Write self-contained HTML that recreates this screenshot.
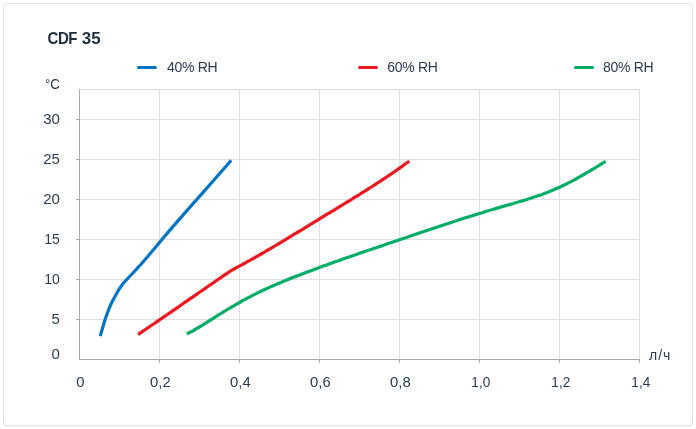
<!DOCTYPE html>
<html lang="ru"><head><meta charset="utf-8"><title>CDF 35</title>
<style>
html,body{margin:0;padding:0;background:#fff;}
body{width:696px;height:429px;overflow:hidden;position:relative;font-family:"Liberation Sans",sans-serif;}
.card{position:absolute;left:3px;top:3px;width:688px;height:421px;border:1px solid #e1e3e6;border-radius:3px;background:#fff;box-shadow:0 1px 1px rgba(0,0,0,0.03);}
svg{position:absolute;left:0;top:0;}
text{font-family:"Liberation Sans",sans-serif;font-size:14px;fill:#2b3b4f;}
.lg{letter-spacing:-0.3px;}
.title{font-size:16px;font-weight:bold;fill:#1f2d40;letter-spacing:-0.55px;}
</style></head><body>
<div class="card"></div>
<svg width="696" height="429" viewBox="0 0 696 429">
<text class="title" transform="translate(47.6,44) scale(0.94,1)" xml:space="preserve">CDF </text><text class="title" transform="translate(81.8,44) scale(1.06,1)" style="letter-spacing:0">35</text>
<g stroke="#dedfe2" stroke-width="1" shape-rendering="crispEdges"><line x1="159.5" y1="89" x2="159.5" y2="359"/><line x1="239.5" y1="89" x2="239.5" y2="359"/><line x1="319.5" y1="89" x2="319.5" y2="359"/><line x1="399.5" y1="89" x2="399.5" y2="359"/><line x1="479.5" y1="89" x2="479.5" y2="359"/><line x1="559.5" y1="89" x2="559.5" y2="359"/><line x1="639.5" y1="89" x2="639.5" y2="359"/><line x1="80" y1="89.5" x2="640" y2="89.5"/><line x1="80" y1="119.5" x2="640" y2="119.5"/><line x1="80" y1="159.5" x2="640" y2="159.5"/><line x1="80" y1="199.5" x2="640" y2="199.5"/><line x1="80" y1="239.5" x2="640" y2="239.5"/><line x1="80" y1="279.5" x2="640" y2="279.5"/><line x1="80" y1="319.5" x2="640" y2="319.5"/></g>
<g stroke="#a8aaaf" stroke-width="1" shape-rendering="crispEdges">
<line x1="79.5" y1="89" x2="79.5" y2="360"/><line x1="79" y1="359.5" x2="640" y2="359.5"/><line x1="159.5" y1="359" x2="159.5" y2="363"/><line x1="239.5" y1="359" x2="239.5" y2="363"/><line x1="319.5" y1="359" x2="319.5" y2="363"/><line x1="399.5" y1="359" x2="399.5" y2="363"/><line x1="479.5" y1="359" x2="479.5" y2="363"/><line x1="559.5" y1="359" x2="559.5" y2="363"/><line x1="639.5" y1="359" x2="639.5" y2="363"/><line x1="76" y1="119.5" x2="79" y2="119.5"/><line x1="76" y1="159.5" x2="79" y2="159.5"/><line x1="76" y1="199.5" x2="79" y2="199.5"/><line x1="76" y1="239.5" x2="79" y2="239.5"/><line x1="76" y1="279.5" x2="79" y2="279.5"/><line x1="76" y1="319.5" x2="79" y2="319.5"/></g>
<g fill="none" stroke-width="3.2" stroke-linejoin="round">
<path stroke="#0474c6" d="M100.3,336.1 C100.6,335.0 101.5,331.8 102.1,329.6 C102.7,327.4 103.4,325.2 104.0,323.1 C104.7,320.9 105.4,318.7 106.1,316.6 C106.9,314.4 107.6,312.2 108.5,310.1 C109.3,307.9 110.2,305.7 111.3,303.5 C112.3,301.4 113.5,299.2 114.7,297.0 C115.8,294.9 117.0,292.7 118.3,290.5 C119.7,288.4 121.0,286.2 122.7,284.0 C124.5,281.8 126.7,279.7 128.7,277.5 C130.7,275.3 132.8,273.2 134.8,271.0 C136.9,268.8 138.8,266.6 140.8,264.5 C142.7,262.3 144.6,260.1 146.4,258.0 C148.3,255.8 150.1,253.6 151.9,251.5 C153.8,249.3 155.6,247.1 157.4,244.9 C159.2,242.8 161.0,240.6 162.8,238.4 C164.7,236.3 166.5,234.1 168.4,231.9 C170.2,229.8 172.1,227.6 174.0,225.4 C175.9,223.2 177.8,221.1 179.7,218.9 C181.6,216.7 183.5,214.6 185.4,212.4 C187.3,210.2 189.2,208.0 191.1,205.9 C193.0,203.7 195.0,201.5 196.9,199.4 C198.8,197.2 200.7,195.0 202.7,192.9 C204.6,190.7 206.5,188.5 208.4,186.3 C210.4,184.2 212.3,182.0 214.2,179.8 C216.1,177.7 218.0,175.5 219.9,173.3 C221.8,171.2 223.7,169.0 225.6,166.8 C227.5,164.6 230.3,161.4 231.2,160.3"/>
<path stroke="#ec1820" d="M138.1,334.5 C138.8,334.1 140.8,332.7 142.1,331.8 C143.5,330.9 144.8,329.9 146.2,329.0 C147.5,328.1 148.9,327.2 150.2,326.3 C151.6,325.3 152.9,324.4 154.3,323.5 C155.6,322.6 157.0,321.7 158.3,320.7 C159.7,319.8 161.0,318.9 162.4,317.9 C163.7,317.0 165.1,316.1 166.4,315.2 C167.8,314.2 169.1,313.3 170.5,312.4 C171.8,311.4 173.2,310.5 174.5,309.6 C175.9,308.6 177.2,307.7 178.6,306.8 C179.9,305.8 181.3,304.9 182.6,304.0 C184.0,303.0 185.3,302.1 186.7,301.2 C188.0,300.2 189.4,299.3 190.7,298.4 C192.1,297.4 193.4,296.5 194.8,295.6 C196.1,294.6 197.5,293.7 198.8,292.8 C200.2,291.8 201.5,290.9 202.9,290.0 C204.2,289.1 205.6,288.1 206.9,287.2 C208.3,286.3 209.6,285.3 211.0,284.4 C212.3,283.5 213.7,282.5 215.0,281.6 C216.4,280.7 217.7,279.8 219.1,278.8 C220.4,277.9 221.8,277.0 223.1,276.0 C224.5,275.1 225.8,274.2 227.2,273.3 C228.5,272.4 229.8,271.5 231.2,270.7 C232.5,269.8 233.9,269.1 235.2,268.3 C236.6,267.5 237.9,266.8 239.3,266.1 C240.6,265.4 242.0,264.7 243.3,264.0 C244.7,263.2 246.0,262.5 247.4,261.7 C248.7,261.0 250.1,260.3 251.4,259.5 C252.8,258.8 254.1,258.0 255.5,257.2 C256.8,256.5 258.2,255.7 259.5,254.9 C260.9,254.2 262.2,253.4 263.6,252.6 C264.9,251.8 266.3,251.0 267.6,250.2 C269.0,249.4 270.3,248.7 271.7,247.9 C273.0,247.1 274.4,246.3 275.7,245.5 C277.1,244.7 278.4,243.8 279.8,243.0 C281.1,242.2 282.5,241.4 283.8,240.6 C285.2,239.8 286.5,239.0 287.9,238.2 C289.2,237.3 290.6,236.5 291.9,235.7 C293.3,234.9 294.6,234.1 296.0,233.2 C297.3,232.4 298.7,231.6 300.0,230.8 C301.4,229.9 302.7,229.1 304.1,228.3 C305.4,227.5 306.8,226.6 308.1,225.8 C309.5,225.0 310.8,224.2 312.2,223.3 C313.5,222.5 314.9,221.7 316.2,220.9 C317.6,220.1 318.9,219.2 320.2,218.4 C321.6,217.6 322.9,216.8 324.3,216.0 C325.6,215.1 327.0,214.3 328.3,213.5 C329.7,212.7 331.0,211.9 332.4,211.1 C333.7,210.2 335.1,209.4 336.4,208.6 C337.8,207.8 339.1,207.0 340.5,206.2 C341.8,205.3 343.2,204.5 344.5,203.7 C345.9,202.9 347.2,202.1 348.6,201.2 C349.9,200.4 351.3,199.6 352.6,198.7 C354.0,197.9 355.3,197.1 356.7,196.2 C358.0,195.4 359.4,194.6 360.7,193.7 C362.1,192.9 363.4,192.0 364.8,191.2 C366.1,190.3 367.5,189.5 368.8,188.6 C370.2,187.8 371.5,186.9 372.9,186.0 C374.2,185.2 375.6,184.3 376.9,183.4 C378.3,182.6 379.6,181.7 381.0,180.8 C382.3,179.9 383.7,179.0 385.0,178.1 C386.4,177.2 387.7,176.3 389.1,175.4 C390.4,174.5 391.8,173.5 393.1,172.6 C394.5,171.7 395.8,170.7 397.2,169.8 C398.5,168.8 399.9,167.9 401.2,166.9 C402.6,166.0 403.9,165.0 405.3,164.0 C406.6,163.0 408.6,161.6 409.3,161.1"/>
<path stroke="#03ad66" d="M186.8,334.0 C187.7,333.5 190.3,332.2 192.1,331.3 C193.9,330.3 195.6,329.3 197.4,328.2 C199.2,327.2 200.9,326.1 202.7,325.0 C204.5,323.9 206.2,322.8 208.0,321.7 C209.8,320.5 211.5,319.4 213.3,318.3 C215.1,317.2 216.8,316.0 218.6,314.9 C220.4,313.8 222.1,312.7 223.9,311.6 C225.7,310.5 227.4,309.5 229.2,308.4 C231.0,307.4 232.7,306.3 234.5,305.3 C236.3,304.3 238.0,303.3 239.8,302.3 C241.6,301.3 243.3,300.3 245.1,299.4 C246.9,298.4 248.6,297.5 250.4,296.6 C252.2,295.6 253.9,294.7 255.7,293.9 C257.5,293.0 259.3,292.1 261.0,291.3 C262.8,290.4 264.6,289.6 266.3,288.8 C268.1,288.0 269.9,287.2 271.6,286.4 C273.4,285.6 275.2,284.9 276.9,284.1 C278.7,283.4 280.5,282.6 282.2,281.9 C284.0,281.2 285.8,280.4 287.5,279.7 C289.3,279.0 291.1,278.3 292.8,277.6 C294.6,276.9 296.4,276.2 298.1,275.5 C299.9,274.8 301.7,274.2 303.4,273.5 C305.2,272.8 307.0,272.1 308.7,271.5 C310.5,270.8 312.3,270.2 314.0,269.5 C315.8,268.8 317.6,268.2 319.3,267.5 C321.1,266.9 322.9,266.2 324.6,265.6 C326.4,265.0 328.2,264.3 329.9,263.7 C331.7,263.1 333.5,262.4 335.2,261.8 C337.0,261.2 338.8,260.5 340.5,259.9 C342.3,259.3 344.1,258.7 345.8,258.1 C347.6,257.4 349.4,256.8 351.1,256.2 C352.9,255.6 354.7,255.0 356.4,254.4 C358.2,253.8 360.0,253.2 361.7,252.6 C363.5,252.0 365.3,251.4 367.0,250.8 C368.8,250.1 370.6,249.5 372.3,249.0 C374.1,248.4 375.9,247.8 377.6,247.2 C379.4,246.6 381.2,246.0 382.9,245.4 C384.7,244.8 386.5,244.2 388.2,243.6 C390.0,243.0 391.8,242.4 393.5,241.8 C395.3,241.2 397.1,240.6 398.9,240.0 C400.6,239.4 402.4,238.8 404.2,238.2 C405.9,237.6 407.7,237.0 409.5,236.4 C411.2,235.8 413.0,235.2 414.8,234.6 C416.5,234.0 418.3,233.4 420.1,232.8 C421.8,232.2 423.6,231.7 425.4,231.1 C427.1,230.5 428.9,229.9 430.7,229.3 C432.4,228.7 434.2,228.1 436.0,227.5 C437.7,226.9 439.5,226.3 441.3,225.7 C443.0,225.2 444.8,224.6 446.6,224.0 C448.3,223.4 450.1,222.8 451.9,222.2 C453.6,221.7 455.4,221.1 457.2,220.5 C458.9,219.9 460.7,219.4 462.5,218.8 C464.2,218.2 466.0,217.7 467.8,217.1 C469.5,216.6 471.3,216.0 473.1,215.4 C474.8,214.9 476.6,214.3 478.4,213.8 C480.1,213.2 481.9,212.7 483.7,212.2 C485.4,211.6 487.2,211.1 489.0,210.5 C490.7,210.0 492.5,209.5 494.3,209.0 C496.0,208.4 497.8,207.9 499.6,207.4 C501.3,206.9 503.1,206.4 504.9,205.9 C506.6,205.4 508.4,204.9 510.2,204.4 C511.9,203.8 513.7,203.3 515.5,202.8 C517.2,202.3 519.0,201.8 520.8,201.3 C522.5,200.8 524.3,200.2 526.1,199.7 C527.8,199.1 529.6,198.6 531.4,198.0 C533.1,197.4 534.9,196.9 536.7,196.3 C538.5,195.7 540.2,195.0 542.0,194.4 C543.8,193.8 545.5,193.1 547.3,192.4 C549.1,191.7 550.8,191.0 552.6,190.3 C554.4,189.6 556.1,188.8 557.9,188.0 C559.7,187.2 561.4,186.4 563.2,185.5 C565.0,184.7 566.7,183.8 568.5,182.9 C570.3,182.0 572.0,181.1 573.8,180.1 C575.6,179.2 577.3,178.2 579.1,177.2 C580.9,176.2 582.6,175.2 584.4,174.1 C586.2,173.1 587.9,172.1 589.7,171.0 C591.5,170.0 593.2,168.9 595.0,167.9 C596.8,166.8 598.5,165.7 600.3,164.6 C602.1,163.6 604.7,162.0 605.6,161.4"/>
</g>
<g fill="none" stroke-width="3" stroke-linecap="round">
<line stroke="#0474c6" x1="138.5" y1="67.5" x2="155.5" y2="67.5"/>
<line stroke="#ec1820" x1="359.5" y1="67.5" x2="376.5" y2="67.5"/>
<line stroke="#03ad66" x1="575.5" y1="67.5" x2="592.5" y2="67.5"/>
</g>
<text class="lg" x="167" y="72">40% RH</text>
<text class="lg" x="387.3" y="72">60% RH</text>
<text class="lg" x="603" y="72">80% RH</text>
<text transform="translate(45,88.8) scale(0.95,1.05)">°C</text>
<text transform="translate(59.8,123.7) scale(1.07,1)" text-anchor="end">30</text><text transform="translate(59.8,163.7) scale(1.07,1)" text-anchor="end">25</text><text transform="translate(59.8,203.7) scale(1.07,1)" text-anchor="end">20</text><text transform="translate(59.8,243.7) scale(1.0,1)" text-anchor="end">15</text><text transform="translate(59.8,283.7) scale(1.0,1)" text-anchor="end">10</text><text transform="translate(59.8,323.7) scale(1.07,1)" text-anchor="end">5</text><text transform="translate(59.8,358.7) scale(1.07,1)" text-anchor="end">0</text>
<text transform="translate(80.4,387) scale(1.06,1)" text-anchor="middle">0</text><text transform="translate(160.4,387) scale(1.06,1)" text-anchor="middle">0,2</text><text transform="translate(240.4,387) scale(1.06,1)" text-anchor="middle">0,4</text><text transform="translate(320.4,387) scale(1.06,1)" text-anchor="middle">0,6</text><text transform="translate(400.4,387) scale(1.06,1)" text-anchor="middle">0,8</text><text transform="translate(480.79999999999995,387) scale(0.97,1)" text-anchor="middle">1,0</text><text transform="translate(560.8,387) scale(0.97,1)" text-anchor="middle">1,2</text><text transform="translate(640.8,387) scale(0.97,1)" text-anchor="middle">1,4</text>
<text x="649" y="360" letter-spacing="1">л/ч</text>
</svg>
</body></html>
